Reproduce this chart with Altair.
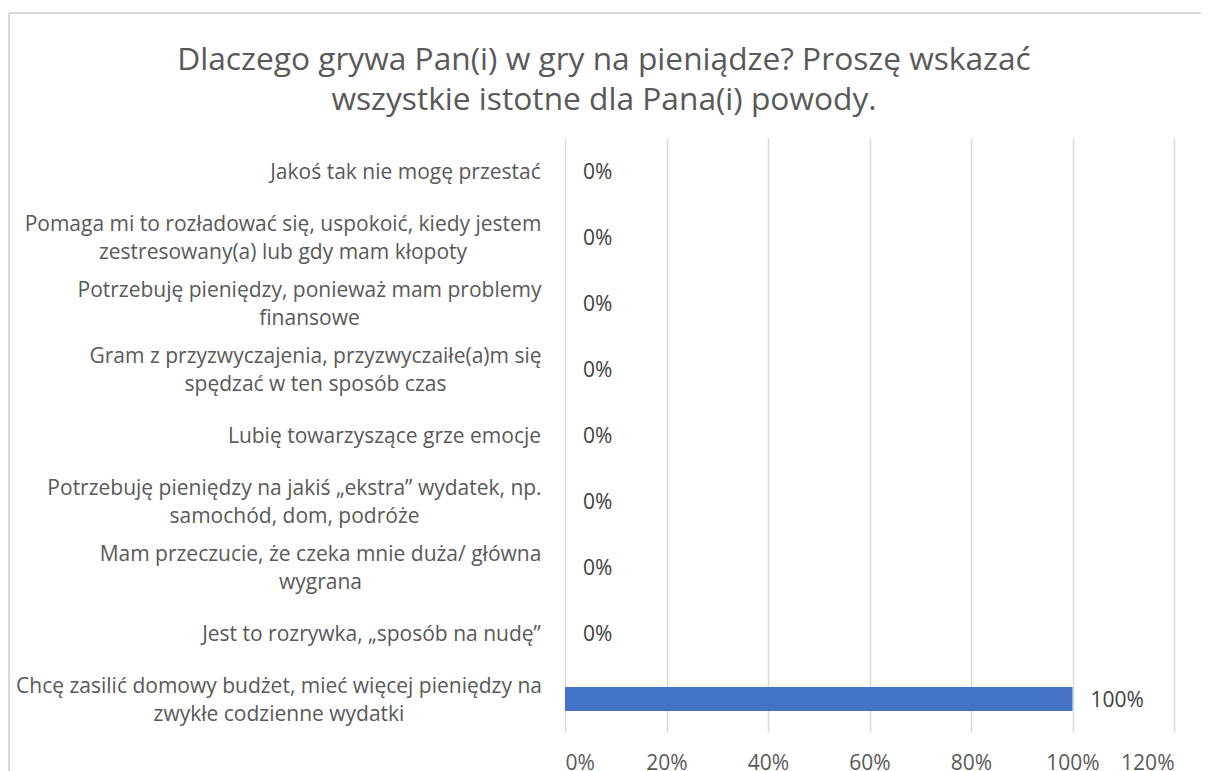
import altair as alt
import pandas as pd

categories = [
    "Jakoś tak nie mogę przestać",
    "Pomaga mi to rozładować się, uspokoić, kiedy jestem\nzestresowany(a) lub gdy mam kłopoty",
    "Potrzebuję pieniędzy, ponieważ mam problemy\nfinansowe",
    "Gram z przyzwyczajenia, przyzwyczaiłe(a)m się\nspędzać w ten sposób czas",
    "Lubię towarzyszące grze emocje",
    "Potrzebuję pieniędzy na jakiś „ekstra” wydatek, np.\nsamochód, dom, podróże",
    "Mam przeczucie, że czeka mnie duża/ główna\nwygrana",
    "Jest to rozrywka, „sposób na nudę”",
    "Chcę zasilić domowy budżet, mieć więcej pieniędzy na\nzwykłe codzienne wydatki",
]
values = [0, 0, 0, 0, 0, 0, 0, 0, 1.0]
x_ticks = [0, 0.2, 0.4, 0.6, 0.8, 1.0, 1.2]
title_lines = [
    "Dlaczego grywa Pan(i) w gry na pieniądze? Proszę wskazać",
    "wszystkie istotne dla Pana(i) powody.",
]

# style: distance from the axis to the centre of each (centre-aligned) label block
label_pads = [160, 282.5, 256, 250, 181, 271, 245, 194, 286.5]

df = pd.DataFrame({"cat": categories, "val": values})

FONT = "Open Sans"
FS = 21

pad_conditions = [
    {"test": "indexof(datum.value, '%s') === 0" % c.split("\n")[0], "value": p}
    for c, p in zip(categories, label_pads)
]

x_enc = alt.X(
    "val:Q",
    scale=alt.Scale(domain=[0, 1.2], nice=False),
    axis=alt.Axis(
        values=x_ticks, format=".0%", title=None, grid=True, gridColor="#d9d9d9",
        gridWidth=1.5, domain=False, ticks=False, labelPadding=20,
        labelFontSize=FS, labelColor="#595959", labelFont=FONT,
    ),
)
y_enc = alt.Y(
    "cat:N", sort=None,
    scale=alt.Scale(paddingInner=0.636, paddingOuter=0.318),
    axis=alt.Axis(
        title=None, domain=False, ticks=False, grid=False,
        labelExpr="split(datum.label, '\\n')", labelLimit=0,
        labelAlign="center", labelPadding={"condition": pad_conditions, "value": 24},
        labelOffset={"condition": {"test": "indexof(datum.value, '\\n') >= 0", "value": -12},
                     "value": 2},
        labelLineHeight=28,
        labelFontSize=FS, labelColor="#595959", labelFont=FONT,
    ),
)

bars = alt.Chart(df).mark_bar(color="#4472C4").encode(x=x_enc, y=y_enc)
texts = alt.Chart(df).mark_text(
    align="left", baseline="middle", dx=18, dy=2, fontSize=FS, color="#404040", font=FONT
).encode(x="val:Q", y=alt.Y("cat:N", sort=None), text=alt.Text("val:Q", format=".0%"))

frame_top = alt.Chart(df).mark_rule(color="#d9d9d9", strokeWidth=1.5).encode(
    x=alt.value(-556), x2=alt.value(700), y=alt.value(-125)
)
frame_left = alt.Chart(df).mark_rule(color="#d9d9d9", strokeWidth=1.5).encode(
    x=alt.value(-556), y=alt.value(-125), y2=alt.value(700)
)
title = alt.Chart(pd.DataFrame({"t": [0]})).mark_text(
    align="center", baseline="middle", fontSize=31.7, font=FONT, color="#595959",
    lineHeight=40,
).encode(x=alt.value(39), y=alt.value(-78), text=alt.value(title_lines))

chart = alt.layer(frame_top, frame_left, title, bars, texts).properties(
    width=609, height=594,
    autosize=alt.AutoSizeParams(type="none"),
    padding={"left": 557, "top": 130, "right": 27, "bottom": 50},
).configure_view(stroke=None)

chart.save("out.html", embed_options={"renderer": "svg", "actions": False})
